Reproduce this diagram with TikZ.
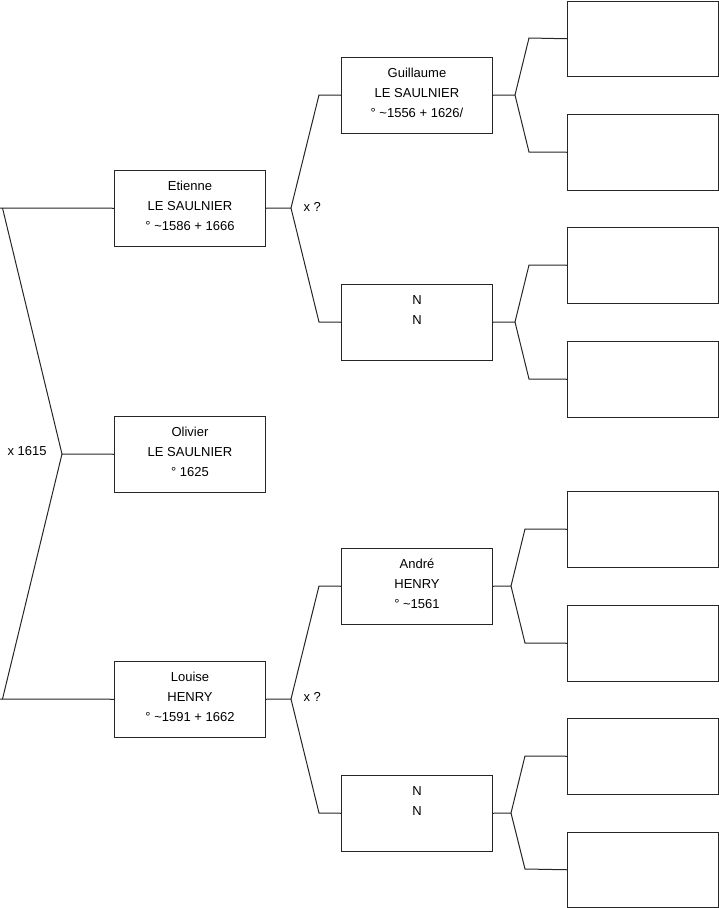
\documentclass[tikz,border=0pt]{standalone}
\usepackage{fontspec}
\setmainfont{Liberation Sans}
\begin{document}
\begin{tikzpicture}[x=1pt,y=-1pt,line width=1pt,
  box/.style={draw=black!85,rectangle,minimum width=151pt,minimum height=75.5pt,inner sep=0pt,anchor=north west},
  txt/.style={align=center,anchor=base,inner sep=0pt,font=\fontsize{13}{20}\selectfont},
  lbl/.style={anchor=base west,inner sep=0pt,font=\fontsize{13}{14}\selectfont},
  link/.style={draw=black!85}]
\useasboundingbox (0,0) rectangle (719,908);
% generation 2
\node[box] (E) at (114,170) {};
\node[box] (O) at (114,416) {};
\node[box] (L) at (114,661) {};
\node[txt] (Et) at ([yshift=-60.7pt]E.north) {Etienne\\LE SAULNIER\\° \textasciitilde1586 + 1666};
\node[txt] (Ot) at ([yshift=-60.7pt]O.north) {Olivier\\LE SAULNIER\\° 1625};
\node[txt] (Lt) at ([yshift=-60.7pt]L.north) {Louise\\HENRY\\° \textasciitilde1591 + 1662};
% generation 3
\node[box] (G) at (341,57) {};
\node[box] (N1) at (341,284) {};
\node[box] (A) at (341,548) {};
\node[box] (N2) at (341,775) {};
\node[txt] (Gt) at ([yshift=-60.7pt]G.north) {Guillaume\\LE SAULNIER\\° \textasciitilde1556 + 1626/};
\node[txt] (N1t) at ([yshift=-40.7pt]N1.north) {N\\N};
\node[txt] (At) at ([yshift=-60.7pt]A.north) {André\\HENRY\\° \textasciitilde1561};
\node[txt] (N2t) at ([yshift=-40.7pt]N2.north) {N\\N};
% generation 4
\node[box] (B1) at (567,0.5) {};
\node[box] (B2) at (567,114) {};
\node[box] (B3) at (567,227) {};
\node[box] (B4) at (567,341) {};
\node[box] (B5) at (567,491) {};
\node[box] (B6) at (567,605) {};
\node[box] (B7) at (567,718) {};
\node[box] (B8) at (567,831.5) {};
% labels
\node[lbl] (x0) at (7,455) {x 1615};
\node[lbl] (x1) at (303,211) {x ?};
\node[lbl] (x2) at (303,701) {x ?};
% root bracket
\coordinate (e0) at (0,208);
\coordinate (l0) at (0,699);
\coordinate (rt) at (2.5,208);
\coordinate (ra) at (62,454);
\coordinate (rb) at (2.5,699);
\draw[link] (e0) -- (E.west);
\draw[link] (l0) -- (L.west);
\draw[link] (rt) -- (ra) -- (rb);
\draw[link] (ra) -- (O.west);
% Etienne's parents
\coordinate (ea) at (291,208);
\coordinate (eg) at (319,95);
\coordinate (en) at (319,322);
\draw[link] (E.east) -- (ea);
\draw[link] (G.west) -- (eg) -- (ea) -- (en) -- (N1.west);
% Louise's parents
\coordinate (la) at (291,699);
\coordinate (lg) at (319,586);
\coordinate (ln) at (319,813);
\draw[link] (L.east) -- (la);
\draw[link] (A.west) -- (lg) -- (la) -- (ln) -- (N2.west);
% Guillaume's parents
\coordinate (ga) at (515,95);
\coordinate (g1) at (529,38);
\coordinate (g2) at (529,152);
\draw[link] (G.east) -- (ga);
\draw[link] (B1.west) -- (g1) -- (ga) -- (g2) -- (B2.west);
% N1's parents
\coordinate (na) at (515,322);
\coordinate (n1) at (529,265);
\coordinate (n2) at (529,379);
\draw[link] (N1.east) -- (na);
\draw[link] (B3.west) -- (n1) -- (na) -- (n2) -- (B4.west);
% André's parents
\coordinate (aa) at (511,586);
\coordinate (a1) at (525,529);
\coordinate (a2) at (525,643);
\draw[link] (A.east) -- (aa);
\draw[link] (B5.west) -- (a1) -- (aa) -- (a2) -- (B6.west);
% N2's parents
\coordinate (ma) at (511,813);
\coordinate (m1) at (525,756);
\coordinate (m2) at (525,869);
\draw[link] (N2.east) -- (ma);
\draw[link] (B7.west) -- (m1) -- (ma) -- (m2) -- (B8.west);
\end{tikzpicture}
\end{document}
